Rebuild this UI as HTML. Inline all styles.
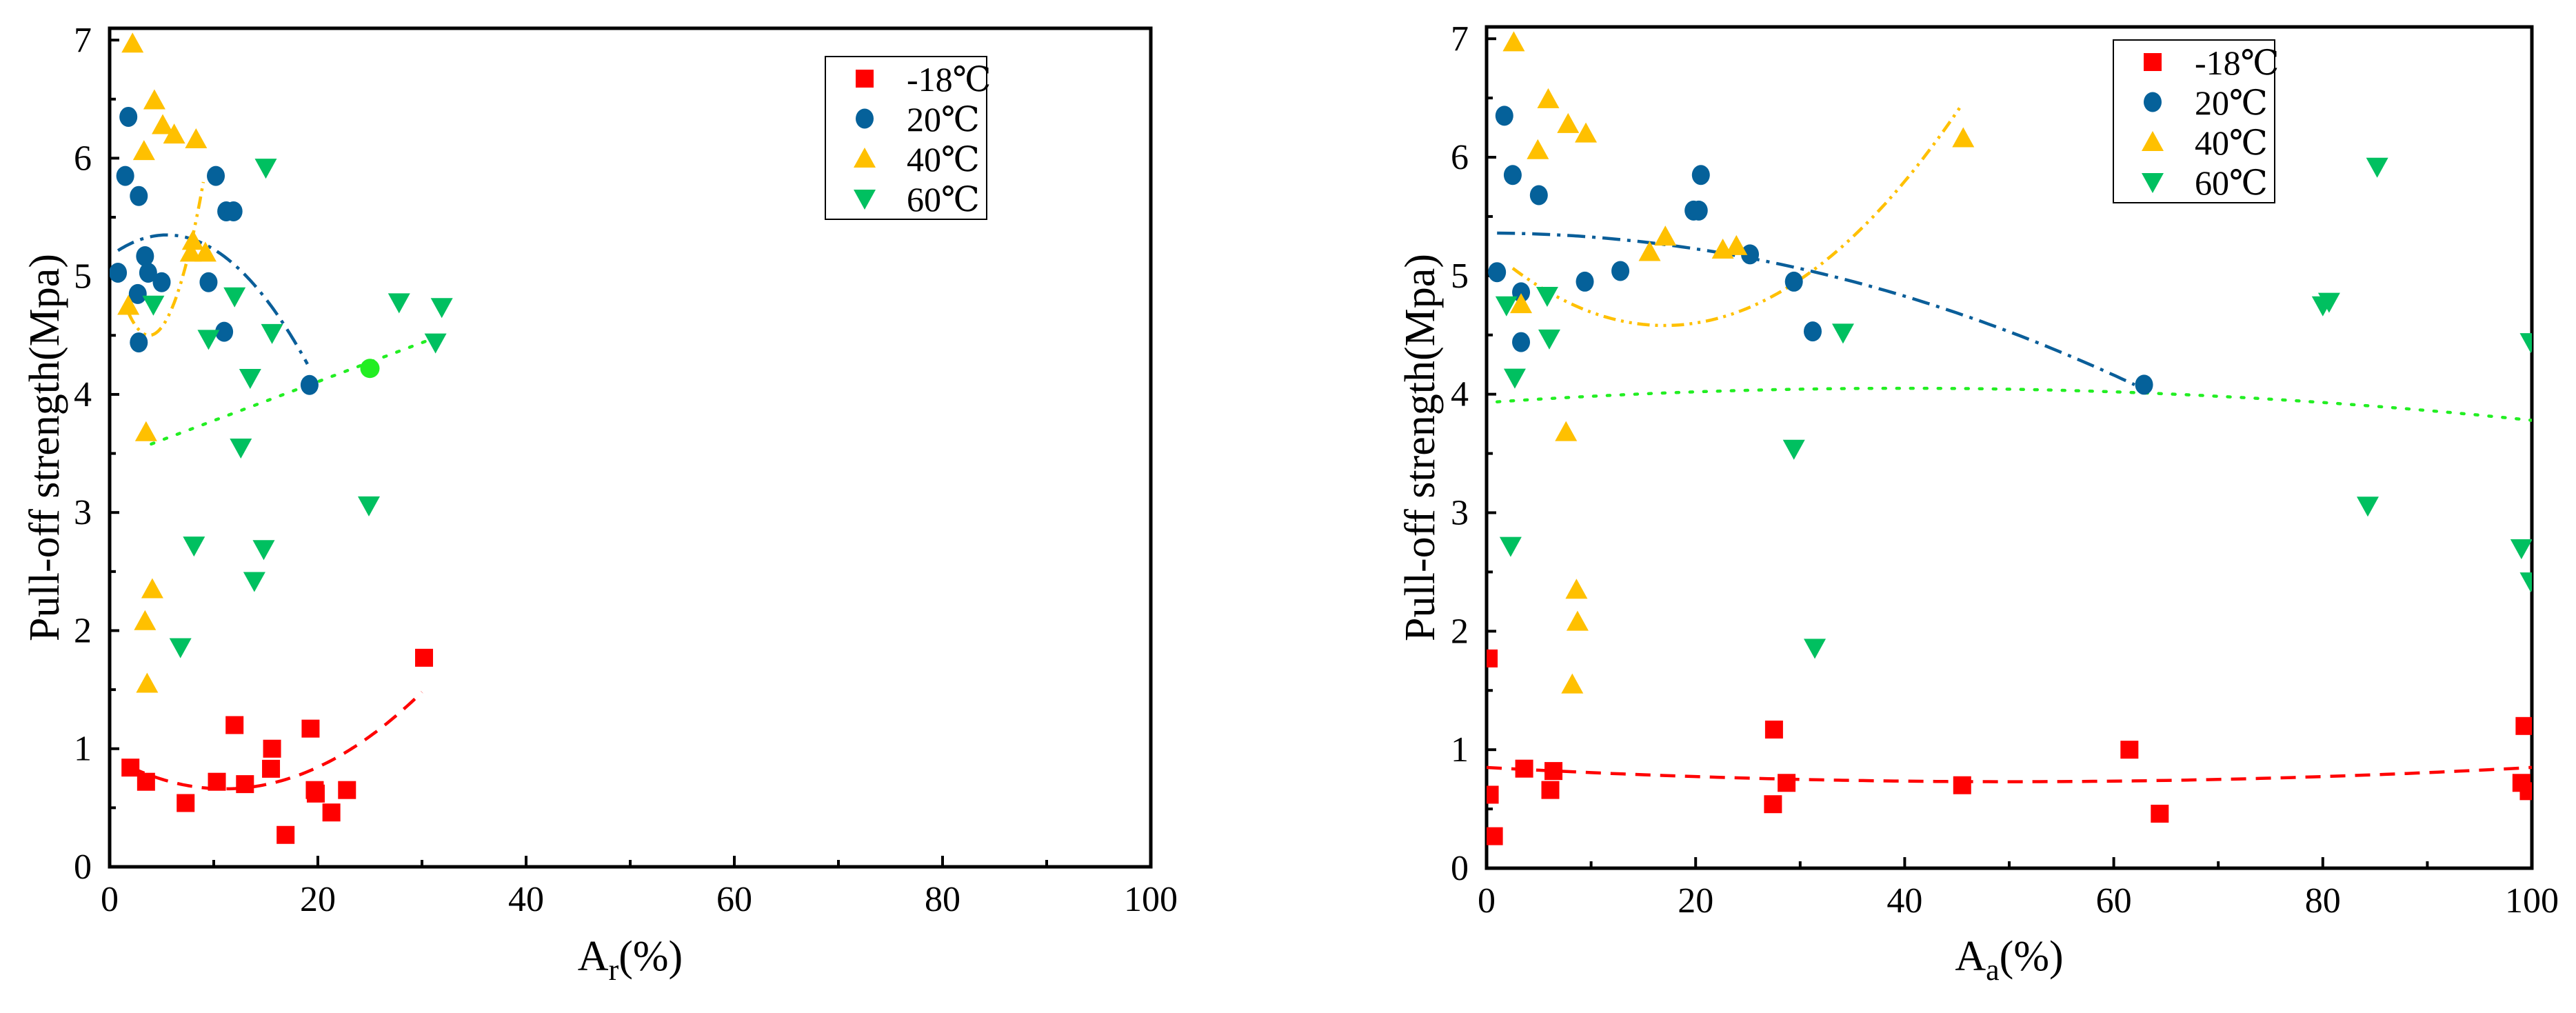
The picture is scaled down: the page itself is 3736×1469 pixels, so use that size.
<!DOCTYPE html>
<html><head><meta charset="utf-8"><style>
body{margin:0;background:#fff}
svg text{font-family:"Liberation Serif","DejaVu Serif","Noto Serif CJK SC",serif;fill:#000}
</style></head><body>
<svg id="chart" width="3736" height="1464" viewBox="0 0 3736 1464" xmlns="http://www.w3.org/2000/svg" font-family="Liberation Serif, DejaVu Serif, serif">
<defs>
<clipPath id="clipL"><rect x="159" y="41" width="1510" height="1216"/></clipPath>
<clipPath id="clipR"><rect x="2156" y="39" width="1516" height="1220"/></clipPath>
</defs>
<g id="left"></g>
<g id="right"></g>
</svg>
<script>
// ---- data: left chart (Ar) ----
const seriesNames = ['-18℃','20℃','40℃','60℃'];
const L_m18_x=[2,3.5,7.3,10.3,12,13,15.5,15.6,16.9,19.3,19.7,19.8,21.3,22.8,30.2];
const L_m18_y=[0.84,0.72,0.54,0.72,1.2,0.7,0.83,1.0,0.27,1.17,0.65,0.62,0.46,0.65,1.77];
const L_20_x=[0.8,1.8,1.5,2.8,2.7,2.8,3.4,3.7,5,9.5,10.2,11,11.2,11.9,19.2];
const L_20_y=[5.03,6.35,5.85,5.68,4.85,4.44,5.17,5.03,4.95,4.95,5.85,4.53,5.55,5.55,4.08];
const L_40_x=[2.2,4.3,3.3,5.1,6.2,8.3,8,7.8,9.2,1.8,3.5,4.1,3.4,3.6];
const L_40_y=[6.97,6.49,6.06,6.28,6.2,6.16,5.3,5.2,5.2,4.75,3.68,2.35,2.08,1.55];
const L_60_x=[15,12,4.2,9.5,15.6,27.8,31.9,31.3,13.5,12.6,24.9,8.1,14.8,13.9,6.8];
const L_60_y=[5.92,4.83,4.76,4.47,4.52,4.78,4.74,4.44,4.14,3.55,3.06,2.72,2.69,2.42,1.86];
const L_extra=[25,4.22];
// fit: [vertex x, vertex y, curvature a, xmin, xmax]
const L_fit_m18=[11,0.66,0.00227,2,30];
const L_fit_20=[5.5,5.35,-0.006,0.8,19];
const L_fit_40=[3.8,4.5,0.048,1.8,9];
const L_fit_60=[4,3.58,0,4,32,0.033]; // linear slope as 6th
// ---- data: right chart (Aa) ----
const R_m18_x=[0.2,0.3,0.7,3.6,6.1,6.4,27.5,27.4,28.7,45.5,61.5,64.4,99.3,99,99.7];
const R_m18_y=[1.77,0.62,0.27,0.84,0.66,0.82,1.17,0.54,0.72,0.7,1.0,0.46,1.2,0.72,0.65];
const R_20_x=[1,1.7,2.5,3.3,3.3,5,9.4,12.8,19.8,20.5,20.3,25.2,29.4,31.2,62.9];
const R_20_y=[5.03,6.35,5.85,4.86,4.44,5.68,4.95,5.04,5.55,5.85,5.55,5.18,4.95,4.53,4.08];
const R_40_x=[2.6,3.3,4.9,5.9,7.8,9.5,7.6,8.6,8.7,8.2,15.6,17.1,22.6,23.9,45.6];
const R_40_y=[6.97,4.76,6.06,6.49,6.28,6.2,3.68,2.35,2.08,1.55,5.2,5.33,5.22,5.25,6.16];
const R_60_x=[1.9,5.8,6,2.7,2.3,29.4,31.4,34.1,80,80.6,85.2,84.3,99,99.9,99.9];
const R_60_y=[4.75,4.83,4.47,4.14,2.72,3.54,1.86,4.52,4.75,4.78,5.92,3.06,2.7,2.42,4.44];
const R_fit_m18=[50,0.73,0.000048,0,100];
const R_fit_20=[0,5.36,-0.000333,1,62];
const R_fit_40=[17,4.58,0.0023,2.5,45.5];
const R_fit_60=[40,4.05,-0.000075,1,100];
const yTicks=[0,1,2,3,4,5,6,7];
const xTicks=[0,20,40,60,80,100];

const NS='http://www.w3.org/2000/svg';
const FF='"Liberation Serif","DejaVu Serif",serif';
function mk(tag,attrs,parent){const e=document.createElementNS(NS,tag);for(const k in attrs)e.setAttribute(k,attrs[k]);parent.appendChild(e);return e;}
function txt(attrs,parent){const e=mk('text',attrs,parent);e.style.fontFamily=FF;return e;}
const colors={m18:'#ff0000',c20:'#05619a',c40:'#ffc000',c60:'#00c060'};

function marker(g,type,cx,cy,color){
  let e;
  if(type==='sq'){e=mk('rect',{x:cx-13,y:cy-13,width:26,height:26,fill:color},g);}
  else if(type==='ci'){e=mk('ellipse',{cx:cx,cy:cy,rx:13,ry:14.5,fill:color},g);}
  else if(type==='up'){e=mk('polygon',{points:`${cx},${cy-16} ${cx-16},${cy+13} ${cx+16},${cy+13}`,fill:color},g);}
  else {e=mk('polygon',{points:`${cx-16},${cy-13} ${cx+16},${cy-13} ${cx},${cy+16}`,fill:color},g);}
  return e;
}

function drawChart(gid,P,clip,sets,fits,xlabSub,legend,extra){
  const g=document.getElementById(gid);
  const X=v=>P.x0+(v/100)*(P.x1-P.x0);
  const Y=v=>P.y0-(v/7.1)*(P.y0-P.y1);
  const frame=mk('rect',{x:P.x0,y:P.y1,width:P.x1-P.x0,height:P.y0-P.y1,fill:'none',stroke:'#000','stroke-width':5},g);
  
  
  for(let v=0;v<=7;v+=0.5){
    const major=Number.isInteger(v);
    mk('line',{x1:P.x0,x2:P.x0+(major?14:9),y1:Y(v),y2:Y(v),stroke:'#000','stroke-width':4},g);
  }
  yTicks.forEach(v=>{
    const t=txt({x:P.x0-26,y:Y(v)+17,'text-anchor':'end','font-size':52},g);t.textContent=v;
    
    
  });
  for(let v=0;v<=100;v+=10){
    const major=v%20===0;
    mk('line',{x1:X(v),x2:X(v),y1:P.y0,y2:P.y0-(major?16:10),stroke:'#000','stroke-width':4},g);
  }
  xTicks.forEach(v=>{
    const t=txt({x:X(v),y:P.y0+64,'text-anchor':'middle','font-size':52},g);t.textContent=v;
    
    
  });
  const yt=txt({x:0,y:0,'text-anchor':'middle','font-size':62,transform:`translate(${P.ytx},${(P.y0+P.y1)/2}) rotate(-90)`},g);
  yt.textContent='Pull-off strength(Mpa)';
  
  
  const xt=txt({x:(P.x0+P.x1)/2,y:1407,'text-anchor':'middle','font-size':62},g);
  
  
  const a=mk('tspan',{},xt);a.textContent='A';
  const s=mk('tspan',{'font-size':44,dy:14},xt);s.textContent=xlabSub;
  const r=mk('tspan',{dy:-14},xt);r.textContent='(%)';
  const dg=mk('g',{'clip-path':`url(#${clip})`},g);
  const fitStyles=[['#ff0000','22,14'],['#0a5e99','26,10,5,10'],['#ffc000','18,8,4,8,4,8'],['#22ee22','4,16']];
  fits.forEach((f,i)=>{
    let d='';
    for(let k=0;k<=100;k++){
      const xv=f[3]+(f[4]-f[3])*k/100;
      const yv=f.length>5? f[1]+f[5]*(xv-f[0]) : f[1]+f[2]*(xv-f[0])*(xv-f[0]);
      d+=(k?'L':'M')+X(xv).toFixed(1)+','+Y(yv).toFixed(1);
    }
    const p=mk('path',{d:d,fill:'none',stroke:fitStyles[i][0],'stroke-width':4.5,'stroke-dasharray':fitStyles[i][1],'stroke-linecap':i===3?'round':'butt'},dg);
    
    
  });
  sets.forEach(sv=>{
    sv.xs.forEach((xv,i)=>{
      const e=marker(dg,sv.type,X(xv),Y(sv.ys[i]),sv.color);
      
      
    });
  });
  if(extra){
    const e=mk('circle',{cx:X(extra[0]),cy:Y(extra[1]),r:14,fill:'#22ee22'},dg);
    
    
  }
  const lg=mk('g',{},g);
  
  
  mk('rect',{x:legend.x,y:legend.y,width:234,height:236,fill:'#fff',stroke:'#000','stroke-width':2},lg);
  sets.forEach((sv,i)=>{
    const cy=legend.y+32+i*58;
    const e=marker(lg,sv.type,legend.x+57,cy,sv.color);
    
    
    const t=txt({x:legend.x+118,y:cy+18,'font-size':50},lg);t.textContent=seriesNames[i];
    
    
  });
}
drawChart('left',{x0:159,x1:1669,y0:1257,y1:41,ytx:85},'clipL',[
 {name:'m18',type:'sq',color:colors.m18,xs:L_m18_x,ys:L_m18_y},
 {name:'20c',type:'ci',color:colors.c20,xs:L_20_x,ys:L_20_y},
 {name:'40c',type:'up',color:colors.c40,xs:L_40_x,ys:L_40_y},
 {name:'60c',type:'dn',color:colors.c60,xs:L_60_x,ys:L_60_y}],
 [L_fit_m18,L_fit_20,L_fit_40,L_fit_60],'r',{x:1197,y:82},L_extra);
drawChart('right',{x0:2156,x1:3672,y0:1259,y1:39,ytx:2080},'clipR',[
 {name:'m18',type:'sq',color:colors.m18,xs:R_m18_x,ys:R_m18_y},
 {name:'20c',type:'ci',color:colors.c20,xs:R_20_x,ys:R_20_y},
 {name:'40c',type:'up',color:colors.c40,xs:R_40_x,ys:R_40_y},
 {name:'60c',type:'dn',color:colors.c60,xs:R_60_x,ys:R_60_y}],
 [R_fit_m18,R_fit_20,R_fit_40,R_fit_60],'a',{x:3065,y:58},null);
</script>
</body></html>
